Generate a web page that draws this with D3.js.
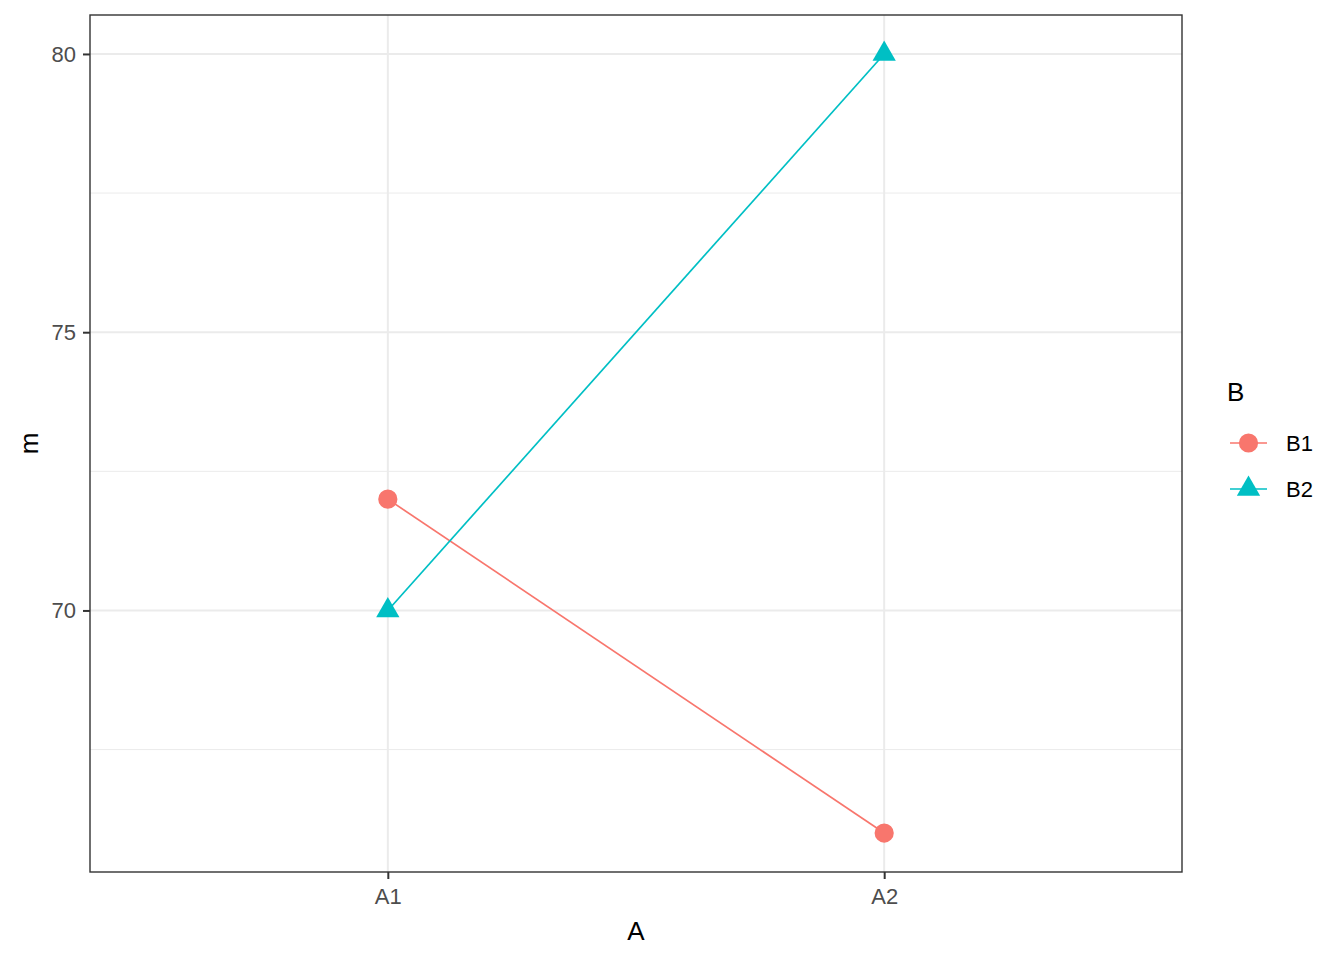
<!DOCTYPE html>
<html>
<head>
<meta charset="utf-8">
<script src="https://cdn.jsdelivr.net/npm/d3@7"></script>
<style>
  body { margin: 0; background: #fff; }
  svg { font-family: "Liberation Sans", Arial, sans-serif; display: block; }
</style>
</head>
<body>
<div id="canvas"></div>
<script>
// DATA
const categories = ["A1", "A2"];
const seriesNames = ["B1", "B2"];
const b1Values = [72, 66];
const b2Values = [70, 80];
const yTicks = [70, 75, 80];
const yMinorTicks = [67.5, 72.5, 77.5];

const colors = { B1: "#F8766D", B2: "#00BFC4" };

// DIMENSIONS
const width = 1344;
const height = 960;
const margin = { top: 15, right: 162, bottom: 88, left: 90 };
const plot_width = width - margin.left - margin.right;
const plot_height = height - margin.top - margin.bottom;

const series = [
    { name: "B1", values: b1Values, shape: d3.symbolCircle, size: 290 },
    { name: "B2", values: b2Values, shape: d3.symbolTriangle, size: 235 }
];

// CANVAS
const canvas = d3.select("#canvas")
    .append("svg")
    .attr("width", width)
    .attr("height", height);

const plot = canvas.append("g")
    .attr("transform", `translate(${margin.left}, ${margin.top})`);

// SCALES (ggplot-style expansion)
const allVals = b1Values.concat(b2Values);
const yMin = d3.min(allVals), yMax = d3.max(allVals);
const pad = (yMax - yMin) * 0.05;
const yScale = d3.scaleLinear()
    .domain([yMin - pad, yMax + pad])
    .range([plot_height, 0]);

const xScale = d3.scaleLinear()
    .domain([0.4, categories.length + 0.6])
    .range([0, plot_width]);
const xPos = i => xScale(i + 1);

// GRID
plot.selectAll(".minor")
    .data(yMinorTicks)
    .enter().append("line")
    .attr("x1", 0).attr("x2", plot_width)
    .attr("y1", d => yScale(d)).attr("y2", d => yScale(d))
    .attr("stroke", "#EBEBEB").attr("stroke-width", 1);

plot.selectAll(".major")
    .data(yTicks)
    .enter().append("line")
    .attr("x1", 0).attr("x2", plot_width)
    .attr("y1", d => yScale(d)).attr("y2", d => yScale(d))
    .attr("stroke", "#EBEBEB").attr("stroke-width", 2);

plot.selectAll(".xmajor")
    .data(categories)
    .enter().append("line")
    .attr("x1", (d, i) => xPos(i)).attr("x2", (d, i) => xPos(i))
    .attr("y1", 0).attr("y2", plot_height)
    .attr("stroke", "#EBEBEB").attr("stroke-width", 2);

// LINES AND POINTS
const makeLine = d3.line()
    .x((d, i) => xPos(i))
    .y(d => yScale(d));

series.forEach(s => {
    plot.append("path")
        .attr("d", makeLine(s.values))
        .attr("fill", "none")
        .attr("stroke", colors[s.name])
        .attr("stroke-width", 1.7);

    plot.selectAll(".pt-" + s.name)
        .data(s.values)
        .enter().append("path")
        .attr("d", d3.symbol().type(s.shape).size(s.size))
        .attr("transform", (d, i) => `translate(${xPos(i)}, ${yScale(d)})`)
        .attr("fill", colors[s.name]);
});

// PANEL BORDER
plot.append("rect")
    .attr("x", 0).attr("y", 0)
    .attr("width", plot_width).attr("height", plot_height)
    .attr("fill", "none")
    .attr("stroke", "#333333")
    .attr("stroke-width", 1.4);

// AXES
const yAx = d3.axisLeft(yScale).tickValues(yTicks).tickSize(7).tickPadding(7);
const yaxis = plot.append("g").call(yAx);
yaxis.select(".domain").remove();
yaxis.selectAll(".tick line").attr("stroke", "#333333").attr("stroke-width", 2);
yaxis.selectAll(".tick text").attr("fill", "#4D4D4D").style("font-size", "22px");

const xAx = d3.axisBottom(xScale)
    .tickValues(categories.map((c, i) => i + 1))
    .tickFormat((d) => categories[d - 1])
    .tickSize(7).tickPadding(9);
const xaxis = plot.append("g")
    .attr("transform", `translate(0, ${plot_height})`)
    .call(xAx);
xaxis.select(".domain").remove();
xaxis.selectAll(".tick line").attr("stroke", "#333333").attr("stroke-width", 2);
xaxis.selectAll(".tick text").attr("fill", "#4D4D4D").style("font-size", "22px");

// LABELS
canvas.append("text")
    .attr("x", margin.left + plot_width / 2)
    .attr("y", 940)
    .attr("text-anchor", "middle")
    .style("font-size", "26px")
    .text("A");

canvas.append("text")
    .attr("transform", `translate(38, ${margin.top + plot_height / 2}) rotate(-90)`)
    .attr("text-anchor", "middle")
    .style("font-size", "26px")
    .text("m");

// LEGEND
const legend = canvas.append("g").attr("transform", "translate(1227, 0)");
legend.append("text")
    .attr("x", 0).attr("y", 401)
    .style("font-size", "26px")
    .text("B");

series.forEach((s, i) => {
    const cy = 443 + i * 46;
    legend.append("line")
        .attr("x1", 3).attr("x2", 40)
        .attr("y1", cy).attr("y2", cy)
        .attr("stroke", colors[s.name]).attr("stroke-width", 1.7);
    legend.append("path")
        .attr("d", d3.symbol().type(s.shape).size(s.size))
        .attr("transform", `translate(21.5, ${cy})`)
        .attr("fill", colors[s.name]);
    legend.append("text")
        .attr("x", 59).attr("y", cy + 8)
        .style("font-size", "22px")
        .text(s.name);
});
</script>
</body>
</html>
